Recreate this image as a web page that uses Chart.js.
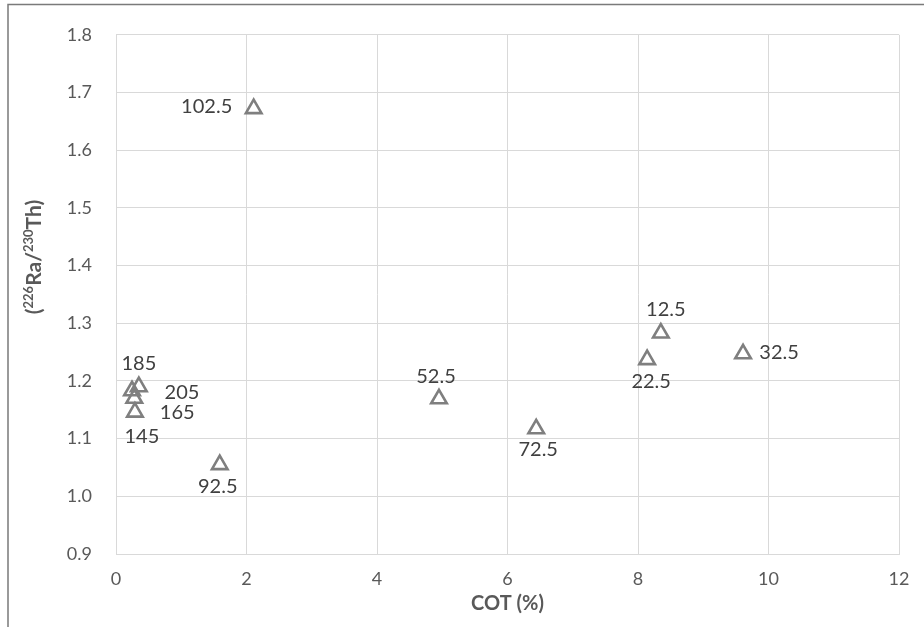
<!DOCTYPE html>
<html>
<head>
<meta charset="utf-8">
<script src="https://cdn.jsdelivr.net/npm/chart.js@4.4.1/dist/chart.umd.min.js"></script>
<style>
  html, body { margin: 0; padding: 0; background: #ffffff; }
  #wrap { width: 924px; height: 627px; position: relative; }
</style>
</head>
<body>
<div id="wrap"><canvas id="myChart" width="924" height="627"></canvas></div>
<script>
// depth labels (cm) shown next to each point
const depthLabels = ['12.5', '22.5', '32.5', '52.5', '72.5', '92.5', '102.5', '145', '165', '185', '205'];
// COT (%)
const cotValues = [8.35, 8.14, 9.61, 4.95, 6.44, 1.59, 2.11, 0.29, 0.28, 0.35, 0.245];
// (226Ra/230Th) activity ratio
const raThRatios = [1.283, 1.237, 1.247, 1.169, 1.117, 1.055, 1.672, 1.146, 1.170, 1.190, 1.183];

const xTicks = [0, 2, 4, 6, 8, 10, 12];
const yTicks = [0.9, 1.0, 1.1, 1.2, 1.3, 1.4, 1.5, 1.6, 1.7, 1.8];

// where each depth label sits relative to its marker (px)
const labelOffsets = [[5, -24], [4, 22], [36, -1], [-3, -22], [2, 21], [-2, 22], [-47, -2], [7, 24], [43, 14], [0, -23], [50, 2]];

const FONT = 'Lato, "Open Sans", sans-serif';
const pointsData = cotValues.map((x, i) => ({x: x, y: raThRatios[i]}));

const depthLabelPlugin = {
    id: 'depthLabels',
    afterDatasetsDraw(chart) {
        const ctx = chart.ctx;
        const meta = chart.getDatasetMeta(0);
        ctx.save();
        ctx.font = '20px ' + FONT;
        ctx.fillStyle = '#404040';
        ctx.textAlign = 'center';
        ctx.textBaseline = 'middle';
        meta.data.forEach((el, i) => {
            const off = labelOffsets[i];
            ctx.fillText(depthLabels[i], el.x + off[0], el.y + off[1]);
        });
        ctx.restore();
    }
};

const frameAndTitlePlugin = {
    id: 'frameAndTitle',
    afterDraw(chart) {
        const ctx = chart.ctx;
        ctx.save();
        // outer chart frame
        ctx.strokeStyle = '#7a7a7a';
        ctx.lineWidth = 1.5;
        ctx.strokeRect(8, 4.5, 2000, 2000);

        // rotated y title with superscripts
        const parts = [
            {t: '(', big: true}, {t: '226', big: false}, {t: 'Ra/', big: true},
            {t: '230', big: false}, {t: 'Th)', big: true}
        ];
        const bigFont = 'bold 21px ' + FONT;
        const smallFont = 'bold 13px ' + FONT;
        let total = 0;
        parts.forEach(p => {
            ctx.font = p.big ? bigFont : smallFont;
            p.w = ctx.measureText(p.t).width;
            total += p.w;
        });
        ctx.translate(34, 257);
        ctx.rotate(-Math.PI / 2);
        ctx.fillStyle = '#595959';
        ctx.textBaseline = 'alphabetic';
        ctx.textAlign = 'left';
        let x = -total / 2;
        parts.forEach(p => {
            ctx.font = p.big ? bigFont : smallFont;
            ctx.fillText(p.t, x, p.big ? 7 : -1);
            x += p.w;
        });
        ctx.restore();
    }
};

new Chart(document.getElementById('myChart'), {
    type: 'scatter',
    data: {
        datasets: [{
            label: '(226Ra/230Th)',
            data: pointsData,
            pointStyle: 'triangle',
            pointRadius: 9,
            pointHoverRadius: 9,
            pointBorderWidth: 2.6,
            pointBorderColor: '#7f7f7f',
            pointBackgroundColor: 'rgba(0,0,0,0)'
        }]
    },
    options: {
        responsive: false,
        animation: false,
        events: [],
        layout: { padding: { top: 30, right: 25, bottom: 0, left: 0 } },
        plugins: {
            legend: { display: false },
            tooltip: { enabled: false }
        },
        scales: {
            x: {
                type: 'linear',
                min: xTicks[0],
                max: xTicks[xTicks.length - 1],
                afterBuildTicks: s => { s.ticks = xTicks.map(v => ({value: v})); },
                afterFit: s => { s.height = 73; },
                grid: { color: '#d9d9d9', lineWidth: 1, drawTicks: false },
                border: { color: '#d9d9d9' },
                ticks: {
                    padding: 14,
                    color: '#595959',
                    font: { family: FONT, size: 18 },
                    callback: v => String(v)
                },
                title: {
                    display: true,
                    text: 'COT (%)',
                    color: '#595959',
                    font: { family: FONT, size: 20, weight: 'bold' },
                    padding: { top: 0, bottom: 11 }
                }
            },
            y: {
                type: 'linear',
                min: yTicks[0],
                max: yTicks[yTicks.length - 1],
                afterBuildTicks: s => { s.ticks = yTicks.map(v => ({value: v})); },
                afterFit: s => { s.width = 116; },
                grid: { color: '#d9d9d9', lineWidth: 1, drawTicks: false },
                border: { color: '#d9d9d9' },
                ticks: {
                    padding: 24,
                    color: '#595959',
                    font: { family: FONT, size: 18 },
                    callback: v => Number(v).toFixed(1)
                }
            }
        }
    },
    plugins: [depthLabelPlugin, frameAndTitlePlugin]
});
</script>
</body>
</html>
